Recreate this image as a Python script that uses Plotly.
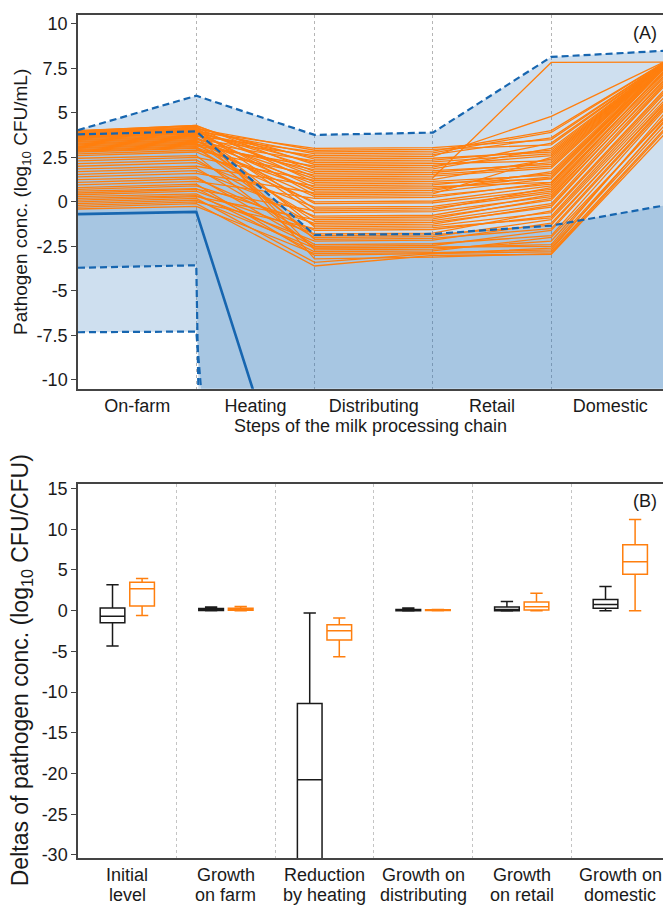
import plotly.graph_objects as go

# ---------------- Panel A data ----------------
steps_x = [0, 1, 2, 3, 4, 5]
step_labels = ["On-farm", "Heating", "Distributing", "Retail", "Domestic"]
step_label_pos = [0.5, 1.5, 2.5, 3.5, 4.5]
step_bounds = [1, 2, 3, 4]

p975 = [4.03, 5.96, 3.76, 3.89, 8.14, 8.50]
p75 = [3.79, 3.96, -1.85, -1.80, -1.33, -0.15]
median = [-0.69, -0.56, -21.4, -21.3, -21.0, -20.0]
p25 = [-3.70, -3.56, -400, -400, -400, -400]
p025 = [-7.32, -7.28, -88, -88, -88, -88]

orange_paths = [
    [-0.40, -0.25, -2.90, -2.85, -2.70, 4.90],
    [-0.30, -0.10, -3.60, -3.00, -2.95, 4.10],
    [-0.20, 0.00, -1.50, -1.45, -0.90, 6.20],
    [-0.10, 0.10, -2.60, -2.55, -2.40, 5.30],
    [0.00, 0.20, -3.40, -2.90, -2.60, 4.60],
    [0.10, 0.30, -1.00, -0.95, 0.20, 7.10],
    [0.20, 0.35, -2.20, -2.15, -1.20, 5.80],
    [0.30, 0.45, -2.80, -2.75, -2.00, 5.00],
    [0.40, 0.60, -1.80, -1.75, -0.50, 6.60],
    [0.50, 0.70, -0.50, -0.45, 0.80, 7.60],
    [0.60, 0.75, -2.50, -2.45, -1.60, 5.60],
    [0.70, 0.90, -1.20, -1.15, -0.30, 6.90],
    [0.80, 1.00, -3.00, -2.90, -2.80, 4.40],
    [0.95, 1.15, 0.20, 0.25, 1.10, 7.90],
    [1.10, 1.30, -1.60, -1.55, -0.80, 6.40],
    [1.25, 1.40, -2.40, -2.35, -1.90, 5.50],
    [1.40, 1.60, 0.50, 0.55, 1.30, 7.95],
    [1.55, 1.75, -0.80, -0.75, 0.40, 7.30],
    [1.70, 1.90, -2.00, -1.95, -1.00, 6.00],
    [1.85, 2.00, 0.90, 0.95, 1.60, 7.90],
    [2.00, 2.20, -0.30, -0.25, 0.60, 7.70],
    [2.15, 2.35, -1.30, -1.25, -0.20, 6.80],
    [2.30, 2.50, 1.20, 1.25, 2.40, 8.00],
    [2.45, 2.60, -2.60, -2.55, -2.50, 4.80],
    [2.60, 2.80, 0.00, 0.05, 0.90, 7.80],
    [2.70, 2.90, 1.50, 1.55, 2.00, 8.00],
    [2.80, 3.00, -0.90, -0.85, 0.10, 7.20],
    [2.85, 3.05, 0.70, 0.75, 1.40, 7.95],
    [2.90, 3.10, -1.90, -1.85, -1.30, 5.90],
    [2.95, 3.15, 2.00, 2.05, 2.60, 8.00],
    [3.00, 3.20, 0.30, 0.35, 1.00, 7.85],
    [3.05, 3.25, 1.80, 1.85, 3.00, 8.00],
    [3.10, 3.30, -1.10, -1.05, -0.10, 7.00],
    [3.15, 3.35, 2.30, 2.35, 2.90, 8.00],
    [3.20, 3.40, 1.00, 1.05, 1.30, 7.90],
    [3.25, 3.45, -0.10, -0.05, 0.70, 7.60],
    [3.30, 3.50, 2.60, 2.65, 3.60, 8.00],
    [3.35, 3.55, 1.30, 1.35, 7.83, 7.85],
    [3.40, 3.60, 0.60, 0.65, 1.70, 7.95],
    [3.45, 3.65, -2.10, -2.05, -1.50, 5.70],
    [3.50, 3.70, 2.80, 2.85, 4.00, 8.00],
    [3.55, 3.75, 1.60, 1.65, 2.20, 8.00],
    [3.60, 3.80, -0.60, -0.55, 0.30, 7.40],
    [3.62, 3.85, 2.50, 2.55, 4.80, 8.00],
    [3.65, 3.85, 0.80, 0.85, 1.10, 7.80],
    [3.68, 3.90, 2.20, 2.25, 2.70, 8.00],
    [3.70, 3.90, -1.40, -1.35, -0.60, 6.50],
    [3.72, 3.95, 1.90, 1.95, 3.30, 8.00],
    [3.75, 3.95, 3.00, 3.05, 3.50, 8.00],
    [3.78, 4.00, 0.40, 0.45, 2.50, 8.00],
    [3.80, 4.00, 2.70, 2.75, 3.90, 8.00],
    [3.82, 4.05, -2.70, -2.65, -2.20, 5.10],
    [3.85, 4.05, 1.40, 1.45, 1.90, 7.95],
    [3.87, 4.10, 2.90, 2.95, 3.20, 8.00],
    [3.90, 4.10, -0.40, -0.35, 0.50, 7.50],
    [3.92, 4.15, 2.40, 2.45, 2.80, 8.00],
    [3.95, 4.20, 1.10, 1.15, 1.50, 7.90],
    [3.97, 4.25, 2.10, 2.15, 2.30, 8.00],
    [4.00, 4.30, -3.20, -3.10, -2.90, 4.30],
    [3.99, 4.30, 1.70, 1.75, 2.10, 8.00],
]

yA_ticks = [-10, -7.5, -5, -2.5, 0, 2.5, 5, 7.5, 10]
yA_ticktext = ["-10", "-7.5", "-5", "-2.5", "0", "2.5", "5", "7.5", "10"]

# ---------------- Panel B data ----------------
delta_labels = [("Initial", "level"), ("Growth", "on farm"), ("Reduction", "by heating"),
                ("Growth on", "distributing"), ("Growth", "on retail"), ("Growth on", "domestic")]
delta_bounds = [0.5, 1.5, 2.5, 3.5, 4.5]

black_lo = [-4.35, 0.00, -45.0, -0.05, -0.05, 0.00]
black_q1 = [-1.49, 0.03, -32.0, 0.00, 0.00, 0.28]
black_med = [-0.69, 0.15, -20.76, 0.08, 0.15, 0.77]
black_q3 = [0.33, 0.25, -11.40, 0.15, 0.45, 1.37]
black_hi = [3.18, 0.45, -0.30, 0.33, 1.13, 2.98]

orange_lo = [-0.60, 0.00, -5.65, 0.00, 0.00, 0.00]
orange_q1 = [0.57, 0.05, -3.60, 0.02, 0.08, 4.47]
orange_med = [2.70, 0.18, -2.46, 0.07, 0.48, 6.00]
orange_q3 = [3.50, 0.30, -1.73, 0.12, 1.05, 8.10]
orange_hi = [3.95, 0.50, -0.89, 0.15, 2.14, 11.20]

yB_ticks = [-30, -25, -20, -15, -10, -5, 0, 5, 10, 15]
yB_ticktext = ["-30", "-25", "-20", "-15", "-10", "-5", "0", "5", "10", "15"]

# ---------------- Styles ----------------
FONT = "Liberation Sans, Arial, sans-serif"
BLUE = "#1766b0"
BAND = "rgba(31,110,180,0.22)"
ORANGE = "#ff7f0e"
TXT = "#1a1a1a"
AXC = "#444444"
H = 911

fig = go.Figure()

# Bands (fills only)
fig.add_trace(go.Scatter(x=steps_x, y=p025, mode="lines", line=dict(width=0),
                         showlegend=False, hoverinfo="skip", xaxis="x", yaxis="y"))
fig.add_trace(go.Scatter(x=steps_x, y=p975, mode="lines", line=dict(width=0),
                         fill="tonexty", fillcolor=BAND,
                         showlegend=False, hoverinfo="skip", xaxis="x", yaxis="y"))
fig.add_trace(go.Scatter(x=steps_x, y=p25, mode="lines", line=dict(width=0),
                         showlegend=False, hoverinfo="skip", xaxis="x", yaxis="y"))
fig.add_trace(go.Scatter(x=steps_x, y=p75, mode="lines", line=dict(width=0),
                         fill="tonexty", fillcolor=BAND,
                         showlegend=False, hoverinfo="skip", xaxis="x", yaxis="y"))

# Orange simulation paths
for path in orange_paths:
    fig.add_trace(go.Scatter(x=steps_x, y=path, mode="lines",
                             line=dict(color=ORANGE, width=1.3),
                             showlegend=False, hoverinfo="skip", xaxis="x", yaxis="y"))

# Percentile boundary lines
for arr in [p975, p75, p25, p025]:
    fig.add_trace(go.Scatter(x=steps_x, y=arr, mode="lines",
                             line=dict(color=BLUE, width=2.2, dash="7px,4px"),
                             showlegend=False, hoverinfo="skip", xaxis="x", yaxis="y"))
fig.add_trace(go.Scatter(x=steps_x, y=median, mode="lines",
                         line=dict(color=BLUE, width=2.6),
                         showlegend=False, hoverinfo="skip", xaxis="x", yaxis="y"))

# Panel B boxes
n = len(delta_labels)
fig.add_trace(go.Box(x=[i - 0.15 for i in range(n)], q1=black_q1, median=black_med, q3=black_q3,
                     lowerfence=black_lo, upperfence=black_hi, width=0.25, whiskerwidth=0.5,
                     line=dict(color="#1a1a1a", width=1.5), fillcolor="rgba(0,0,0,0)",
                     showlegend=False, hoverinfo="skip", xaxis="x2", yaxis="y2"))
fig.add_trace(go.Box(x=[i + 0.15 for i in range(n)], q1=orange_q1, median=orange_med, q3=orange_q3,
                     lowerfence=orange_lo, upperfence=orange_hi, width=0.25, whiskerwidth=0.5,
                     line=dict(color=ORANGE, width=1.5), fillcolor="rgba(0,0,0,0)",
                     showlegend=False, hoverinfo="skip", xaxis="x2", yaxis="y2"))

annotations = [
    dict(text="(A)", xref="paper", yref="paper", x=0.969, y=0.9693,
         showarrow=False, font=dict(size=18), xanchor="center", yanchor="middle"),
    dict(text="(B)", xref="paper", yref="paper", x=0.969, y=0.4479,
         showarrow=False, font=dict(size=18), xanchor="center", yanchor="middle"),
    dict(text="Pathogen conc. (log<sub>10</sub> CFU/mL)", xref="paper", yref="paper",
         x=(22 - 78) / 585, y=0.781, textangle=-90, showarrow=False,
         font=dict(size=19), xanchor="center", yanchor="middle"),
    dict(text="Deltas of pathogen conc. (log<sub>10</sub> CFU/CFU)", xref="paper", yref="paper",
         x=(21 - 78) / 585, y=0.26, textangle=-90, showarrow=False,
         font=dict(size=23), xanchor="center", yanchor="middle"),
]
# Two-line category labels of panel B (tight line spacing as in the reference)
for i, (l1, l2) in enumerate(delta_labels):
    annotations.append(dict(text=l1, xref="x2", yref="paper", x=i, y=1 - 882 / H,
                            showarrow=False, font=dict(size=18), xanchor="center", yanchor="middle"))
    annotations.append(dict(text=l2, xref="x2", yref="paper", x=i, y=1 - 901.5 / H,
                            showarrow=False, font=dict(size=18), xanchor="center", yanchor="middle"))

fig.update_layout(
    width=663, height=H,
    margin=dict(l=78, r=0, t=0, b=0),
    paper_bgcolor="white", plot_bgcolor="white",
    font=dict(family=FONT, color=TXT, size=17),
    boxmode="overlay",
    xaxis=dict(domain=[0, 1], anchor="y", range=[0, 4.945],
               tickmode="array", tickvals=step_label_pos, ticktext=step_labels,
               ticks="", showgrid=False, zeroline=False,
               showline=True, mirror=True, linecolor=AXC, linewidth=1.5,
               tickfont=dict(size=18),
               minor=dict(tickvals=step_bounds, showgrid=True, gridcolor="#b5b5b5",
                          griddash="dot", gridwidth=1, ticks=""),
               title=dict(text="Steps of the milk processing chain", font=dict(size=18), standoff=4)),
    yaxis=dict(domain=[0.5730, 0.9890], anchor="x", range=[-10.5, 10.5],
               tickmode="array", tickvals=yA_ticks, ticktext=yA_ticktext,
               ticks="outside", ticklen=5, tickcolor=AXC, tickwidth=1.2,
               showgrid=False, zeroline=False,
               showline=True, linecolor=AXC, linewidth=1.5,
               tickfont=dict(size=18)),
    xaxis2=dict(domain=[0, 1], anchor="y2", range=[-0.5, 5.433],
                tickmode="array", tickvals=list(range(n)), showticklabels=False,
                ticks="", showgrid=False, zeroline=False,
                showline=True, mirror=True, linecolor=AXC, linewidth=1.5,
                minor=dict(tickvals=delta_bounds, showgrid=True, gridcolor="#c4c4c4",
                           griddash="dot", gridwidth=1, ticks="")),
    yaxis2=dict(domain=[0.0513, 0.4669], anchor="x2", range=[-30.36, 15.52],
                tickmode="array", tickvals=yB_ticks, ticktext=yB_ticktext,
                ticks="outside", ticklen=5, tickcolor=AXC, tickwidth=1.2,
                showgrid=False, zeroline=False,
                showline=True, linecolor=AXC, linewidth=1.5,
                tickfont=dict(size=18)),
    annotations=annotations,
)

fig.write_html("out.html")
